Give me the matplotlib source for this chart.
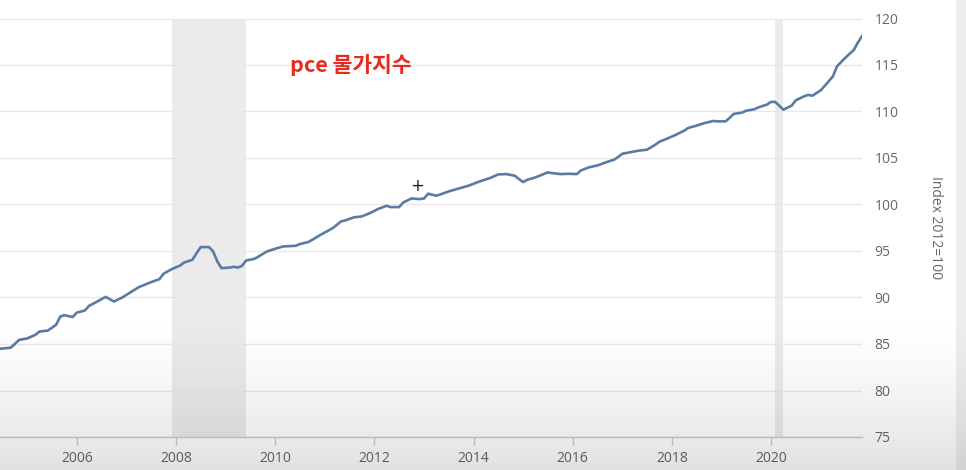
import numpy as np
import pandas as pd
import matplotlib
matplotlib.use("Agg")
import matplotlib.pyplot as plt
from matplotlib.patches import Rectangle

# ---------------- data ----------------
dates = ["2004-06", "2004-09", "2004-10", "2004-11", "2005-01", "2005-03", "2005-04", "2005-06",
         "2005-08", "2005-09", "2005-10", "2005-12", "2006-01", "2006-03", "2006-04", "2006-06",
         "2006-08", "2006-10", "2006-12", "2007-02", "2007-04", "2007-07", "2007-09", "2007-10",
         "2007-12", "2008-02", "2008-03", "2008-05", "2008-06", "2008-07", "2008-09", "2008-10",
         "2008-11", "2008-12", "2009-02", "2009-03", "2009-04", "2009-05", "2009-06", "2009-08",
         "2009-09", "2009-11", "2010-01", "2010-03", "2010-06", "2010-07", "2010-09", "2010-10",
         "2010-12", "2011-03", "2011-05", "2011-06", "2011-08", "2011-10", "2011-12", "2012-02",
         "2012-04", "2012-05", "2012-07", "2012-08", "2012-10", "2012-12", "2013-01", "2013-02",
         "2013-04", "2013-05", "2013-07", "2013-09", "2013-12", "2014-02", "2014-05", "2014-07",
         "2014-09", "2014-11", "2014-12", "2015-01", "2015-02", "2015-04", "2015-06", "2015-07",
         "2015-08", "2015-10", "2015-12", "2016-02", "2016-03", "2016-05", "2016-07", "2016-09",
         "2016-11", "2016-12", "2017-01", "2017-02", "2017-04", "2017-05", "2017-07", "2017-09",
         "2017-10", "2017-12", "2018-02", "2018-04", "2018-05", "2018-07", "2018-09", "2018-11",
         "2018-12", "2019-02", "2019-03", "2019-04", "2019-06", "2019-07", "2019-09", "2019-10",
         "2019-12", "2020-01", "2020-02", "2020-03", "2020-04", "2020-06", "2020-07", "2020-09",
         "2020-10", "2020-11", "2021-01", "2021-02", "2021-04", "2021-05", "2021-07", "2021-08",
         "2021-09", "2021-10", "2021-11"]
pce_index = [84.47, 84.60, 85.00, 85.44, 85.60, 85.98, 86.34, 86.44,
             87.06, 87.95, 88.10, 87.90, 88.38, 88.60, 89.10, 89.57,
             90.07, 89.57, 90.00, 90.57, 91.10, 91.65, 91.97, 92.55,
             93.05, 93.44, 93.76, 94.05, 94.77, 95.42, 95.42, 94.95,
             93.87, 93.16, 93.22, 93.30, 93.22, 93.40, 93.98, 94.16,
             94.41, 94.95, 95.24, 95.49, 95.56, 95.74, 95.96, 96.20,
             96.74, 97.46, 98.18, 98.29, 98.61, 98.72, 99.08, 99.54,
             99.86, 99.72, 99.72, 100.22, 100.65, 100.58, 100.65, 101.16,
             100.94, 101.08, 101.40, 101.66, 102.05, 102.41, 102.84, 103.23,
             103.27, 103.09, 102.74, 102.41, 102.66, 102.91, 103.27, 103.45,
             103.38, 103.27, 103.30, 103.27, 103.66, 104.00, 104.20, 104.53,
             104.82, 105.11, 105.46, 105.54, 105.71, 105.79, 105.89, 106.43,
             106.75, 107.11, 107.51, 107.94, 108.23, 108.48, 108.77, 108.98,
             108.94, 108.94, 109.30, 109.74, 109.88, 110.08, 110.24, 110.45,
             110.74, 111.03, 111.03, 110.63, 110.20, 110.63, 111.20, 111.64,
             111.78, 111.70, 112.28, 112.78, 113.78, 114.86, 115.77, 116.20,
             116.60, 117.40, 118.10]
recession_start = ["2007-12-01", "2020-02-01"]
recession_end = ["2009-06-01", "2020-04-01"]
x_tick_years = [2006, 2008, 2010, 2012, 2014, 2016, 2018, 2020]
y_ticks = [75, 80, 85, 90, 95, 100, 105, 110, 115, 120]
title_text = "pce 물가지수"
y_label = "Index 2012=100"

# ---------------- figure ----------------
W, H = 966, 470
fig = plt.figure(figsize=(W / 100, H / 100), dpi=100)
fig.patch.set_facecolor("white")

ax = fig.add_axes([0, 33 / H, 862 / W, (437 - 18.5) / H])
ax.set_facecolor("white")

x = pd.to_datetime(dates)
for s, e in zip(recession_start, recession_end):
    ax.axvspan(pd.Timestamp(s), pd.Timestamp(e), color="#ebebeb", lw=0, zorder=0)

ax.plot(x, pce_index, color="#5a7ba2", lw=1.9, zorder=3, solid_joinstyle="round")

ax.set_xlim(pd.Timestamp("2004-06-14"), pd.Timestamp("2021-11-01"))
ax.set_ylim(75, 120)

tick_font = "Open Sans"
ax.set_xticks([pd.Timestamp(f"{y}-01-01") for y in x_tick_years])
ax.set_xticklabels([str(y) for y in x_tick_years], fontsize=10, color="#666666",
                   family=tick_font)
ax.set_yticks(y_ticks)
ax.set_yticklabels([str(v) for v in y_ticks], fontsize=10, color="#666666",
                   family=tick_font)
ax.yaxis.tick_right()
ax.tick_params(axis="y", length=0, pad=9)
ax.tick_params(axis="x", length=6, width=1, color="#cccccc", pad=4, direction="out")

ax.grid(axis="y", color="#e8e8e8", lw=1)
ax.set_axisbelow(True)
for side in ["top", "left", "right"]:
    ax.spines[side].set_visible(False)
ax.spines["bottom"].set_color("#cccccc")
ax.spines["bottom"].set_linewidth(1)

fig.text(935 / W, 1 - 228 / H, y_label, rotation=270, ha="center", va="center",
         fontsize=10, color="#666666", family=tick_font)

fig.text(290 / W, 1 - 65 / H, title_text, ha="left", va="center", fontsize=15.5,
         fontweight="bold", color="#e8291d", family=["Noto Sans CJK KR", "DejaVu Sans"])

# mouse cursor crosshair
fig.text(417 / W, 1 - 186 / H, "+", ha="center", va="center", fontsize=12,
         color="#222222", family="DejaVu Sans")

# right-side grey band
fig.patches.append(Rectangle((956 / W, 0), 1 - 956 / W, 1, transform=fig.transFigure,
                             facecolor="#eeeeee", edgecolor="none", zorder=5))

# bottom darkening gradient (video overlay)
ov = fig.add_axes([0, 0, 1, 1], zorder=10)
ov.axis("off")
rows = np.arange(H)
t = np.clip((rows - 300) / (H - 300), 0, 1)
alpha = (t ** 1.6) * 0.12
grad = np.zeros((H, 1, 4))
grad[:, 0, 3] = alpha
ov.imshow(grad, aspect="auto", extent=[0, 1, 0, 1], origin="upper", interpolation="bilinear")
ov.set_xlim(0, 1)
ov.set_ylim(0, 1)

fig.savefig("out.png", dpi=100)
